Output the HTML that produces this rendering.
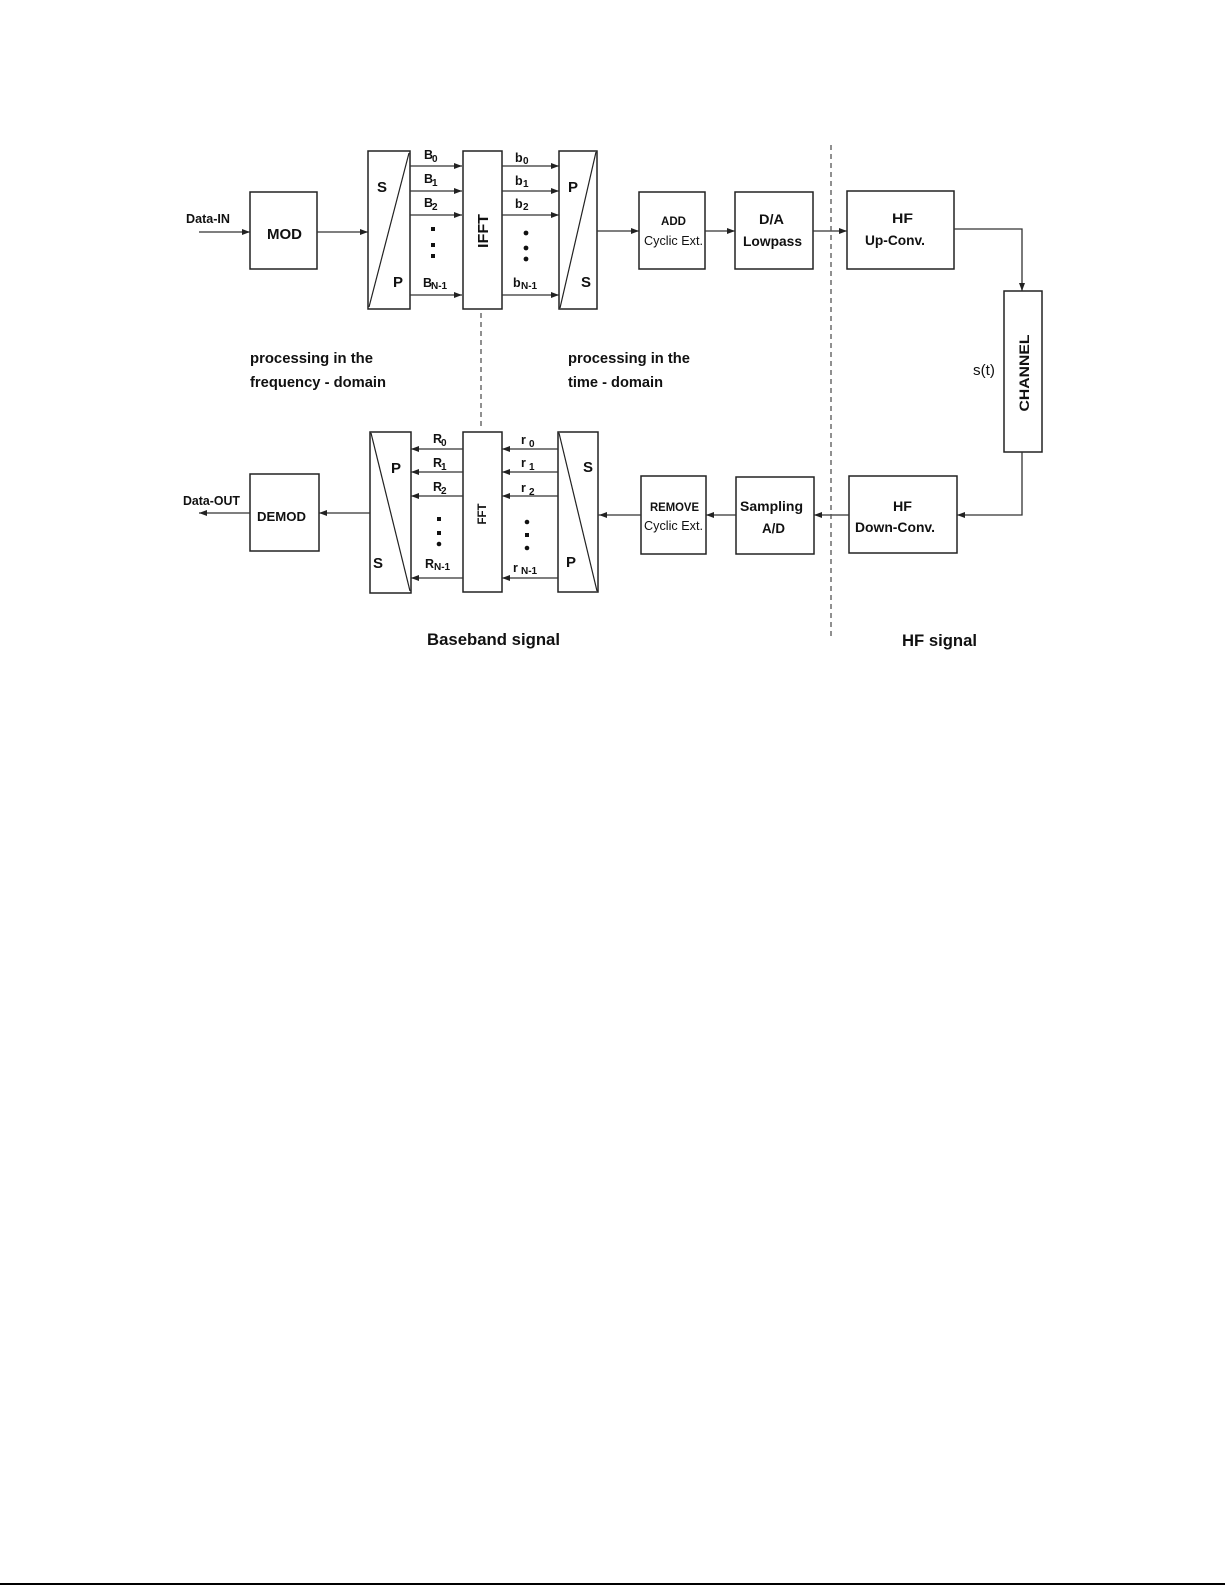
<!DOCTYPE html>
<html>
<head>
<meta charset="utf-8">
<style>
  html, body { margin: 0; padding: 0; background: #fff; }
  body { width: 1225px; height: 1585px; overflow: hidden; }
  svg { display: block; }
  text { font-family: "Liberation Sans", Arial, sans-serif; fill: #111; }
  .b { font-weight: bold; }
</style>
</head>
<body>
<svg width="1225" height="1585" viewBox="0 0 1225 1585" xmlns="http://www.w3.org/2000/svg">
  <rect x="0" y="0" width="1225" height="1585" fill="#fff"/>

  <!-- ============ boxes ============ -->
  <g fill="none" stroke="#222" stroke-width="1.5">
    <!-- upper row -->
    <rect x="250" y="192" width="67" height="77"/>
    <rect x="368" y="151" width="42" height="158"/>
    <rect x="463" y="151" width="39" height="158"/>
    <rect x="559" y="151" width="38" height="158"/>
    <rect x="639" y="192" width="66" height="77"/>
    <rect x="735" y="192" width="78" height="77"/>
    <rect x="847" y="191" width="107" height="78"/>
    <!-- channel -->
    <rect x="1004" y="291" width="38" height="161"/>
    <!-- lower row -->
    <rect x="849" y="476" width="108" height="77"/>
    <rect x="736" y="477" width="78" height="77"/>
    <rect x="641" y="476" width="65" height="78"/>
    <rect x="558" y="432" width="40" height="160"/>
    <rect x="463" y="432" width="39" height="160"/>
    <rect x="370" y="432" width="41" height="161"/>
    <rect x="250" y="474" width="69" height="77"/>
  </g>

  <!-- diagonals -->
  <g stroke="#222" stroke-width="1.2" fill="none">
    <line x1="369" y1="307" x2="409" y2="153"/>
    <line x1="596" y1="152" x2="560" y2="308"/>
    <line x1="559" y1="433" x2="597" y2="591"/>
    <line x1="371" y1="433" x2="410" y2="591"/>
  </g>

  <!-- ============ connector lines ============ -->
  <g stroke="#333" stroke-width="1.3" fill="none">
    <line x1="199" y1="232" x2="250" y2="232"/>
    <line x1="317" y1="232" x2="368" y2="232"/>
    <line x1="410" y1="166" x2="462" y2="166"/>
    <line x1="410" y1="191" x2="462" y2="191"/>
    <line x1="410" y1="215" x2="462" y2="215"/>
    <line x1="410" y1="295" x2="462" y2="295"/>
    <line x1="502" y1="166" x2="559" y2="166"/>
    <line x1="502" y1="191" x2="559" y2="191"/>
    <line x1="502" y1="215" x2="559" y2="215"/>
    <line x1="502" y1="295" x2="559" y2="295"/>
    <line x1="597" y1="231" x2="639" y2="231"/>
    <line x1="705" y1="231" x2="735" y2="231"/>
    <line x1="813" y1="231" x2="847" y2="231"/>
    <polyline points="954,229 1022,229 1022,291"/>
    <polyline points="1022,452 1022,515 957,515"/>
    <line x1="849" y1="515" x2="814" y2="515"/>
    <line x1="736" y1="515" x2="706" y2="515"/>
    <line x1="641" y1="515" x2="598" y2="515"/>
    <line x1="558" y1="449" x2="502" y2="449"/>
    <line x1="558" y1="472" x2="502" y2="472"/>
    <line x1="558" y1="496" x2="502" y2="496"/>
    <line x1="558" y1="578" x2="502" y2="578"/>
    <line x1="463" y1="449" x2="411" y2="449"/>
    <line x1="463" y1="472" x2="411" y2="472"/>
    <line x1="463" y1="496" x2="411" y2="496"/>
    <line x1="463" y1="578" x2="411" y2="578"/>
    <line x1="370" y1="513" x2="319" y2="513"/>
    <line x1="250" y1="513" x2="199" y2="513"/>
  </g>

  <!-- dashed separators -->
  <g stroke="#555" stroke-width="1.3" stroke-dasharray="5,4" fill="none">
    <line x1="831" y1="145" x2="831" y2="638"/>
    <line x1="481" y1="313" x2="481" y2="427"/>
  </g>

  <!-- ============ arrowheads ============ -->
  <g fill="#222">
    <!-- right-pointing -->
    <polygon points="250,232 242,229 242,235"/>
    <polygon points="368,232 360,229 360,235"/>
    <polygon points="462,166 454,163 454,169"/>
    <polygon points="462,191 454,188 454,194"/>
    <polygon points="462,215 454,212 454,218"/>
    <polygon points="462,295 454,292 454,298"/>
    <polygon points="559,166 551,163 551,169"/>
    <polygon points="559,191 551,188 551,194"/>
    <polygon points="559,215 551,212 551,218"/>
    <polygon points="559,295 551,292 551,298"/>
    <polygon points="639,231 631,228 631,234"/>
    <polygon points="735,231 727,228 727,234"/>
    <polygon points="847,231 839,228 839,234"/>
    <!-- down -->
    <polygon points="1022,291 1019,283 1025,283"/>
    <!-- left-pointing -->
    <polygon points="957,515 965,512 965,518"/>
    <polygon points="814,515 822,512 822,518"/>
    <polygon points="706,515 714,512 714,518"/>
    <polygon points="599,515 607,512 607,518"/>
    <polygon points="502,449 510,446 510,452"/>
    <polygon points="502,472 510,469 510,475"/>
    <polygon points="502,496 510,493 510,499"/>
    <polygon points="502,578 510,575 510,581"/>
    <polygon points="411,449 419,446 419,452"/>
    <polygon points="411,472 419,469 419,475"/>
    <polygon points="411,496 419,493 419,499"/>
    <polygon points="411,578 419,575 419,581"/>
    <polygon points="319,513 327,510 327,516"/>
    <polygon points="199,513 207,510 207,516"/>
  </g>

  <!-- dots -->
  <g fill="#111">
    <rect x="431" y="227" width="4" height="4"/>
    <rect x="431" y="243" width="4" height="4"/>
    <rect x="431" y="254" width="4" height="4"/>
    <circle cx="526" cy="233" r="2.4"/>
    <circle cx="526" cy="248" r="2.4"/>
    <circle cx="526" cy="259" r="2.4"/>
    <rect x="437" y="517" width="4" height="4"/>
    <rect x="437" y="531" width="4" height="4"/>
    <circle cx="439" cy="544" r="2.3"/>
    <circle cx="527" cy="522" r="2.3"/>
    <rect x="525" y="533" width="4" height="4"/>
    <circle cx="527" cy="548" r="2.3"/>
  </g>

  <!-- ============ texts ============ -->
  <!-- left labels -->
  <text class="b" x="186" y="223" font-size="12.5" textLength="44" lengthAdjust="spacingAndGlyphs">Data-IN</text>
  <text class="b" x="183" y="505" font-size="12.5" textLength="57" lengthAdjust="spacingAndGlyphs">Data-OUT</text>
  <text class="b" x="267" y="239" font-size="15" textLength="35" lengthAdjust="spacingAndGlyphs">MOD</text>
  <text class="b" x="257" y="521" font-size="13" textLength="49" lengthAdjust="spacingAndGlyphs">DEMOD</text>

  <!-- S/P letters -->
  <text class="b" x="377" y="192" font-size="15">S</text>
  <text class="b" x="393" y="287" font-size="15">P</text>
  <text class="b" x="568" y="192" font-size="15">P</text>
  <text class="b" x="581" y="287" font-size="15">S</text>
  <text class="b" x="391" y="473" font-size="15">P</text>
  <text class="b" x="373" y="568" font-size="15">S</text>
  <text class="b" x="583" y="472" font-size="15">S</text>
  <text class="b" x="566" y="567" font-size="15">P</text>

  <!-- B labels -->
  <g class="b">
    <text x="424" y="159" font-size="12.5">B</text><text x="432" y="162" font-size="10">0</text>
    <text x="424" y="183" font-size="12.5">B</text><text x="432" y="186" font-size="10">1</text>
    <text x="424" y="207" font-size="12.5">B</text><text x="432" y="210" font-size="10">2</text>
    <text x="423" y="287" font-size="12.5">B</text><text x="431" y="289" font-size="10">N-1</text>

    <text x="515" y="162" font-size="12.5">b</text><text x="523" y="164" font-size="10">0</text>
    <text x="515" y="185" font-size="12.5">b</text><text x="523" y="187" font-size="10">1</text>
    <text x="515" y="208" font-size="12.5">b</text><text x="523" y="210" font-size="10">2</text>
    <text x="513" y="287" font-size="12.5">b</text><text x="521" y="289" font-size="10">N-1</text>

    <text x="433" y="443" font-size="12.5">R</text><text x="441" y="446" font-size="10">0</text>
    <text x="433" y="467" font-size="12.5">R</text><text x="441" y="470" font-size="10">1</text>
    <text x="433" y="491" font-size="12.5">R</text><text x="441" y="494" font-size="10">2</text>
    <text x="425" y="568" font-size="12.5">R</text><text x="434" y="570" font-size="10">N-1</text>

    <text x="521" y="444" font-size="12.5">r</text><text x="529" y="447" font-size="10">0</text>
    <text x="521" y="467" font-size="12.5">r</text><text x="529" y="470" font-size="10">1</text>
    <text x="521" y="492" font-size="12.5">r</text><text x="529" y="495" font-size="10">2</text>
    <text x="513" y="572" font-size="12.5">r</text><text x="521" y="574" font-size="10">N-1</text>
  </g>

  <!-- rotated labels -->
  <text class="b" transform="translate(488,231) rotate(-90)" text-anchor="middle" font-size="15" textLength="34" lengthAdjust="spacingAndGlyphs">IFFT</text>
  <text class="b" transform="translate(486,514) rotate(-90)" text-anchor="middle" font-size="12" textLength="21" lengthAdjust="spacingAndGlyphs">FFT</text>
  <text class="b" transform="translate(1029,373) rotate(-90)" text-anchor="middle" font-size="14" textLength="77" lengthAdjust="spacingAndGlyphs">CHANNEL</text>

  <!-- upper chain labels -->
  <text class="b" x="661" y="225" font-size="12" textLength="25" lengthAdjust="spacingAndGlyphs">ADD</text>
  <text x="644" y="245" font-size="12.5" textLength="59" lengthAdjust="spacingAndGlyphs">Cyclic Ext.</text>
  <text class="b" x="759" y="224" font-size="14" textLength="25" lengthAdjust="spacingAndGlyphs">D/A</text>
  <text class="b" x="743" y="246" font-size="14" textLength="59" lengthAdjust="spacingAndGlyphs">Lowpass</text>
  <text class="b" x="892" y="223" font-size="14" textLength="21" lengthAdjust="spacingAndGlyphs">HF</text>
  <text class="b" x="865" y="245" font-size="14" textLength="60" lengthAdjust="spacingAndGlyphs">Up-Conv.</text>

  <!-- lower chain labels -->
  <text class="b" x="893" y="511" font-size="14" textLength="19" lengthAdjust="spacingAndGlyphs">HF</text>
  <text class="b" x="855" y="532" font-size="14" textLength="80" lengthAdjust="spacingAndGlyphs">Down-Conv.</text>
  <text class="b" x="740" y="511" font-size="14" textLength="63" lengthAdjust="spacingAndGlyphs">Sampling</text>
  <text class="b" x="762" y="533" font-size="14" textLength="23" lengthAdjust="spacingAndGlyphs">A/D</text>
  <text class="b" x="650" y="511" font-size="11.5" textLength="49" lengthAdjust="spacingAndGlyphs">REMOVE</text>
  <text x="644" y="530" font-size="12.5" textLength="59" lengthAdjust="spacingAndGlyphs">Cyclic Ext.</text>

  <text x="973" y="375" font-size="15" textLength="22" lengthAdjust="spacingAndGlyphs">s(t)</text>

  <!-- domain labels -->
  <text class="b" x="250" y="363" font-size="15" textLength="123" lengthAdjust="spacingAndGlyphs">processing in the</text>
  <text class="b" x="250" y="387" font-size="15" textLength="136" lengthAdjust="spacingAndGlyphs">frequency - domain</text>
  <text class="b" x="568" y="363" font-size="15" textLength="122" lengthAdjust="spacingAndGlyphs">processing in the</text>
  <text class="b" x="568" y="387" font-size="15" textLength="95" lengthAdjust="spacingAndGlyphs">time - domain</text>

  <text class="b" x="427" y="645" font-size="16.5" textLength="133" lengthAdjust="spacingAndGlyphs">Baseband signal</text>
  <text class="b" x="902" y="646" font-size="16.5" textLength="75" lengthAdjust="spacingAndGlyphs">HF signal</text>

  <!-- bottom border line -->
  <rect x="0" y="1583" width="1225" height="2" fill="#000"/>
</svg>
</body>
</html>
